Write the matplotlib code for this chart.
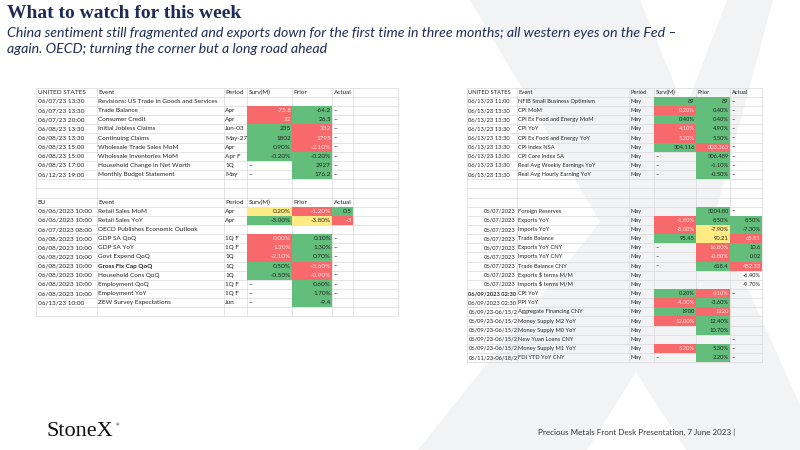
import matplotlib
matplotlib.use("Agg")
import matplotlib.pyplot as plt
from matplotlib.patches import Rectangle, Polygon

plt.rcParams["font.family"] = ["Lato", "DejaVu Sans"]

# ---- data -------------------------------------------------------------
title = "What to watch for this week"
subtitle_1 = ("China sentiment still fragmented and exports down for the first time in three months; "
              "all western eyes on the Fed \u2013")
subtitle_2 = "again. OECD; turning the corner but a long road ahead"
footer = "Precious Metals Front Desk Presentation, 7 June 2023 |"

header_cols = ["Event", "Period", "Surv(M)", "Prior", "Actual"]

us1_dates = ["06/07/23 13:30", "06/07/23 13:30", "06/07/23 20:00", "06/08/23 13:30", "06/08/23 13:30",
             "06/08/23 15:00", "06/08/23 15:00", "06/08/23 17:00", "06/12/23 19:00"]
us1_events = ["Revisions: US Trade in Goods and Services", "Trade Balance", "Consumer Credit",
              "Initial Jobless Claims", "Continuing Claims", "Wholesale Trade Sales MoM",
              "Wholesale Inventories MoM", "Household Change in Net Worth", "Monthly Budget Statement"]
us1_period = ["", "Apr", "Apr", "Jun-03", "May-27", "Apr", "Apr F", "1Q", "May"]
us1_surv = ["", "-75.8", "22", "235", "1802", "0.90%", "-0.20%", "--", "--"]
us1_prior = ["", "-64.2", "26.5", "232", "1795", "-2.10%", "-0.20%", "2927", "176.2"]
us1_actual = ["", "--", "--", "--", "--", "--", "--", "--", "--"]

eu_dates = ["06/06/2023 10:00", "06/06/2023 10:00", "06/07/2023 08:00", "06/08/2023 10:00",
            "06/08/2023 10:00", "06/08/2023 10:00", "06/08/2023 10:00", "06/08/2023 10:00",
            "06/08/2023 10:00", "06/08/2023 10:00", "06/13/23 10:00"]
eu_events = ["Retail Sales MoM", "Retail Sales YoY", "OECD Publishes Economic Outlook", "GDP SA QoQ",
             "GDP SA YoY", "Govt Expend QoQ", "Gross Fix Cap QoQ", "Household Cons QoQ",
             "Employment QoQ", "Employment YoY", "ZEW Survey Expectations"]
eu_period = ["Apr", "Apr", "", "1Q F", "1Q F", "1Q", "1Q", "1Q", "1Q F", "1Q F", "Jun"]
eu_surv = ["0.20%", "-3.00%", "", "0.00%", "1.20%", "-2.10%", "0.50%", "-0.50%", "--", "--", "--"]
eu_prior = ["-1.20%", "-3.80%", "", "0.10%", "1.30%", "0.70%", "-3.60%", "-0.90%", "0.60%", "1.70%", "-9.4"]
eu_actual = ["0.5", "-3", "", "--", "--", "--", "--", "--", "--", "--", ""]

us2_dates = ["06/13/23 11:00"] + ["06/13/23 13:30"] * 8
us2_events = ["NFIB Small Business Optimism", "CPI MoM", "CPI Ex Food and Energy MoM", "CPI YoY",
              "CPI Ex Food and Energy YoY", "CPI Index NSA", "CPI Core Index SA",
              "Real Avg Weekly Earnings YoY", "Real Avg Hourly Earning YoY"]
us2_period = ["May"] * 9
us2_surv = ["89", "0.20%", "0.40%", "4.10%", "5.20%", "304.116", "--", "--", "--"]
us2_prior = ["89", "0.40%", "0.40%", "4.90%", "5.50%", "303.363", "306.489", "-1.10%", "-0.50%"]
us2_actual = ["--"] * 9

cn_dates = ["06/07/2023"] * 9 + ["06/09/2023 02:30", "06/09/2023 02:30"] + ["06/09/23-06/15/2"] * 5 \
           + ["06/11/23-06/18/2"]
cn_events = ["Foreign Reserves", "Exports YoY", "Imports YoY", "Trade Balance", "Exports YoY CNY",
             "Imports YoY CNY", "Trade Balance CNY", "Exports $ terms M/M", "Imports $ terms M/M",
             "CPI YoY", "PPI YoY", "Aggregate Financing CNY", "Money Supply M2 YoY", "Money Supply M0 YoY",
             "New Yuan Loans CNY", "Money Supply M1 YoY", "FDI YTD YoY CNY"]
cn_period = ["May"] * 17
cn_surv = ["", "-1.80%", "-8.00%", "95.45", "--", "--", "--", "", "", "0.20%", "-4.30%", "1900",
           "12.00%", "", "", "5.20%", "--"]
cn_prior = ["3204.80", "8.50%", "-7.90%", "90.21", "16.80%", "-0.80%", "618.4", "", "", "0.10%", "-3.60%",
            "1220", "12.40%", "10.70%", "", "5.30%", "2.20%"]
cn_actual = ["--", "8.50%", "-7.30%", "65.81", "10.6", "0.02", "452.33", "-6.40%", "-9.70%", "--", "",
             "", "", "", "--", "--", "--"]

# rows that carry no colour scale in the source sheet
no_scale = {"Exports $ terms M/M", "Imports $ terms M/M"}
bold_events = {"Gross Fix Cap QoQ"}
bold_dates = {("06/09/2023 02:30", "CPI YoY")}

# ---- style ------------------------------------------------------------
RED, GREEN, YELLOW = "#f8696b", "#63be7b", "#ffeb84"
NAVY = "#1f2b55"
GRID = "#d9d9d9"
ROW_H = 9.15
TOP = 87.7

left_x = [36, 97, 223.5, 247.3, 292.3, 332.3, 353.3, 398]
right_x = [467, 517, 629, 654, 696, 730, 762]


def to_num(s):
    s = s.strip()
    if s in ("", "--"):
        return None
    if s.endswith("%"):
        return float(s[:-1]) / 100
    return float(s)


def row_fills(vals):
    nums = [to_num(v) for v in vals]
    present = [n for n in nums if n is not None]
    fills = [None] * len(vals)
    if not present:
        return fills
    hi, lo = max(present), min(present)
    for i, n in enumerate(nums):
        if n is None:
            continue
        fills[i] = GREEN if n == hi else (RED if n == lo else YELLOW)
    return fills


fig = plt.figure(figsize=(8, 4.5), dpi=100)
ax = fig.add_axes([0, 0, 1, 1])
ax.set_xlim(0, 800)
ax.set_ylim(450, 0)
ax.axis("off")

# watermark X
ax.add_patch(Polygon([(470, 0), (640, 0), (685, 110), (727, 0), (773, 0), (715, 215), (820, 450),
                      (686, 450), (636, 372), (587, 450), (418, 450), (600, 222)],
                     closed=True, facecolor="#f2f3f5", edgecolor="none", zorder=0))


def grid(xs, n_rows):
    y0, y1 = TOP, TOP + n_rows * ROW_H
    for i in range(n_rows + 1):
        ax.plot([xs[0], xs[-1]], [TOP + i * ROW_H] * 2, color=GRID, lw=0.5, zorder=1)
    for x in xs:
        ax.plot([x, x], [y0, y1], color=GRID, lw=0.5, zorder=1)


def cell_text(xs, col, row, s, fs, numeric=False, color="#222222", weight="normal", align=None):
    yc = TOP + (row + 0.5) * ROW_H
    if align is None:
        align = "right" if numeric else "left"
    x = xs[col + 1] - 1.2 if align == "right" else xs[col] + 1.5
    t = ax.text(x, yc, s, ha=align, va="center", fontsize=fs, color=color, weight=weight, zorder=4)
    if col == 0:
        clip = Rectangle((xs[0], TOP + row * ROW_H), xs[1] - xs[0], ROW_H, transform=ax.transData)
        t.set_clip_path(clip)
    return t


def header(xs, row, first, fs):
    for c, s in enumerate([first] + header_cols):
        cell_text(xs, c, row, s, fs)


def section(xs, start, fs, dates, events, period, surv, prior, actual, date_align=None):
    for i in range(len(events)):
        r = start + i
        vals = [surv[i], prior[i], actual[i]]
        fills = [None] * 3 if events[i] in no_scale else row_fills(vals)
        dw = "bold" if (dates[i], events[i]) in bold_dates else "normal"
        da = date_align[i] if date_align else "left"
        cell_text(xs, 0, r, dates[i], fs, weight=dw, align=da)
        cell_text(xs, 1, r, events[i], fs, weight="bold" if events[i] in bold_events else "normal")
        cell_text(xs, 2, r, period[i], fs)
        for k, (v, f) in enumerate(zip(vals, fills)):
            c = 3 + k
            if f is not None:
                ax.add_patch(Rectangle((xs[c], TOP + r * ROW_H), xs[c + 1] - xs[c], ROW_H,
                                       facecolor=f, edgecolor="none", zorder=2))
            num = to_num(v) is not None
            tc = "#fbe5e5" if f == RED else "#222222"
            cell_text(xs, c, r, v, fs, numeric=num, color=tc)


FS_L = 4.6
FS_R = 4.15

# left table
grid(left_x, 25)
header(left_x, 0, "UNITED STATES", FS_L)
section(left_x, 1, FS_L, us1_dates, us1_events, us1_period, us1_surv, us1_prior, us1_actual)
header(left_x, 12, "EU", FS_L)
section(left_x, 13, FS_L, eu_dates, eu_events, eu_period, eu_surv, eu_prior, eu_actual)

# right table
grid(right_x, 30)
header(right_x, 0, "UNITED STATES", FS_R)
section(right_x, 1, FS_R, us2_dates, us2_events, us2_period, us2_surv, us2_prior, us2_actual)
cn_align = ["right" if ":" not in d and "-" not in d else "left" for d in cn_dates]
section(right_x, 13, FS_R, cn_dates, cn_events, cn_period, cn_surv, cn_prior, cn_actual,
        date_align=cn_align)

# titles and footer
ax.text(7, 14, title, fontsize=14, fontweight="bold", family="Liberation Serif", color=NAVY,
        va="center", ha="left")
ax.text(7, 33, subtitle_1, fontsize=10.2, style="italic", color=NAVY, va="center", ha="left")
ax.text(7, 49, subtitle_2, fontsize=10.2, style="italic", color=NAVY, va="center", ha="left")
ax.text(47, 432, "StoneX", fontsize=16, family="Liberation Serif", color="#111111", va="center", ha="left")
ax.text(116, 425, "\u00ae", fontsize=3, color="#111111", va="center", ha="left")
ax.text(735, 432, footer, fontsize=5.8, color="#333333", va="center", ha="right")

fig.savefig("out.png", dpi=100)
